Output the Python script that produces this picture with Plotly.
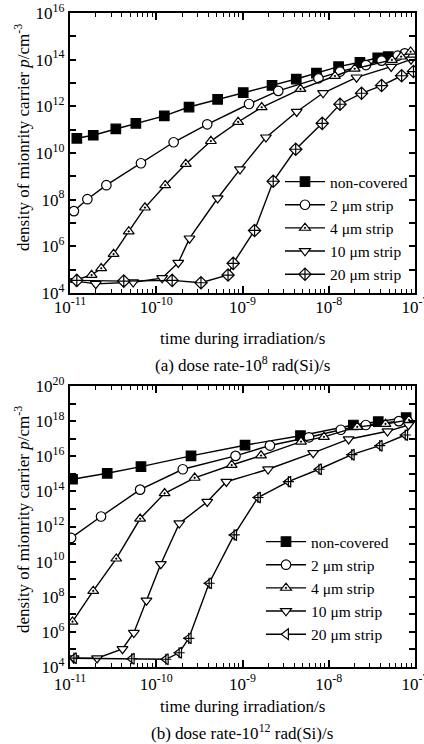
import plotly.graph_objects as go

# ---------------- data: (a) dose rate 1e8 rad(Si)/s ----------------
a_nc_t = [1.2e-11, 1.86e-11, 3.4e-11, 5.8e-11, 1.24e-10, 2.4e-10, 5.15e-10, 1.02e-9, 2.2e-9, 4.2e-9, 7.2e-9, 1.3e-8, 2.3e-8, 3.7e-8, 4.9e-8]
a_nc_p = [10.63, 10.76, 11.03, 11.27, 11.59, 11.97, 12.30, 12.59, 12.90, 13.17, 13.42, 13.70, 13.89, 14.08, 14.13]

a_2_t = [1.11e-11, 1.59e-11, 2.64e-11, 6.65e-11, 1.59e-10, 3.9e-10, 1.19e-9, 2.6e-9, 7.6e-9, 1.35e-8, 2.7e-8, 4.1e-8, 6.3e-8, 7.6e-8]
a_2_p = [7.51, 8.02, 8.62, 9.56, 10.46, 11.23, 12.10, 12.66, 13.20, 13.49, 13.77, 13.96, 14.17, 14.27]

a_4_t = [1.17e-11, 1.78e-11, 2.3e-11, 3.2e-11, 4.8e-11, 7.4e-11, 1.27e-10, 2.2e-10, 4.3e-10, 8.9e-10, 1.67e-9, 4.7e-9, 1.18e-8, 2.0e-8, 5.4e-8, 6.9e-8, 8.9e-8]
a_4_p = [4.56, 4.77, 5.06, 5.67, 6.64, 7.66, 8.62, 9.53, 10.51, 11.33, 11.96, 12.74, 13.30, 13.61, 13.99, 14.13, 14.34]

a_10_t = [1.17e-11, 1.99e-11, 5.4e-11, 1.17e-10, 1.8e-10, 2.43e-10, 5.15e-10, 9.35e-10, 1.87e-9, 4.25e-9, 8.6e-9, 2.1e-8, 5.3e-8, 9.0e-8]
a_10_p = [4.51, 4.39, 4.46, 4.64, 5.30, 6.34, 8.06, 9.30, 10.67, 11.77, 12.57, 13.24, 13.70, 14.01]

a_20_t = [1.2e-11, 4.2e-11, 1.53e-10, 3.3e-10, 6.8e-10, 7.8e-10, 1.38e-9, 2.27e-9, 4.14e-9, 8.4e-9, 1.35e-8, 2.4e-8, 4.1e-8, 7.0e-8, 9.6e-8]
a_20_p = [4.54, 4.51, 4.54, 4.44, 4.77, 5.27, 6.68, 8.79, 10.16, 11.27, 12.09, 12.56, 12.89, 13.31, 13.49]

# ---------------- data: (b) dose rate 1e12 rad(Si)/s ----------------
b_nc_t = [1.07e-11, 2.7e-11, 6.65e-11, 2.53e-10, 1.07e-9, 4.7e-9, 1.93e-8, 3.75e-8, 7.9e-8]
b_nc_p = [14.69, 15.03, 15.41, 16.02, 16.63, 17.17, 17.78, 17.97, 18.20]

b_2_t = [1.03e-11, 2.29e-11, 6.5e-11, 2.03e-10, 8.3e-10, 2.08e-9, 5.9e-9, 1.38e-8, 2.69e-8, 6.5e-8]
b_2_p = [11.35, 12.57, 14.10, 15.26, 16.02, 16.61, 17.08, 17.51, 17.78, 18.00]

b_4_t = [1.07e-11, 1.86e-11, 3.44e-11, 6.5e-11, 1.25e-10, 2.79e-10, 7.5e-10, 1.64e-9, 4.77e-9, 8.8e-9, 2.14e-8, 4.55e-8, 8.5e-8]
b_4_p = [6.58, 8.33, 10.17, 12.44, 13.89, 14.77, 15.50, 16.04, 16.83, 17.10, 17.67, 17.84, 18.07]

b_10_t = [1.1e-11, 2.06e-11, 4.06e-11, 5.5e-11, 7.7e-11, 1.13e-10, 1.85e-10, 3.9e-10, 6.5e-10, 1.98e-9, 6.6e-9, 1.7e-8, 4.8e-8, 8.4e-8]
b_10_p = [4.50, 4.50, 5.03, 5.95, 7.79, 9.87, 12.18, 13.41, 14.55, 15.26, 16.19, 16.97, 17.42, 17.78]

b_20_t = [1.11e-11, 5.2e-11, 1.29e-10, 1.84e-10, 2.38e-10, 4.1e-10, 8.0e-10, 1.51e-9, 3.4e-9, 7.7e-9, 1.85e-8, 3.9e-8, 7.7e-8]
b_20_p = [4.50, 4.47, 4.44, 4.81, 5.63, 8.77, 11.52, 13.65, 14.55, 15.26, 16.09, 16.60, 17.21]

names = ["non-covered", "2 \u03bcm strip", "4 \u03bcm strip", "10 \u03bcm strip", "20 \u03bcm strip"]

x_ticks = [1e-11, 1e-10, 1e-9, 1e-8, 1e-7]
x_ticktext = ["10<sup>-11</sup>", "10<sup>-10</sup>", "10<sup>-9</sup>", "10<sup>-8</sup>", "10<sup>-7</sup>"]

W, H = 424, 744
FONT = "Liberation Serif"
FS = 17
LFS = 15.5

fig = go.Figure()

styles = [
    dict(symbol="square", color="black"),
    dict(symbol="circle", color="white"),
    dict(symbol="triangle-up-dot", color="white"),
    dict(symbol="triangle-down", color="white"),
]

def add_series(ts, ps, i, xa, ya, leg, last_symbol):
    if i < 4:
        st = styles[i]
    else:
        st = dict(symbol=last_symbol, color="white")
    fig.add_trace(go.Scatter(
        x=ts, y=[10 ** v for v in ps], mode="lines+markers", name=names[i],
        xaxis=xa, yaxis=ya, legend=leg,
        line=dict(color="black", width=1.4),
        marker=dict(symbol=st["symbol"], color=st["color"], size=9.5,
                    line=dict(color="black", width=1.2)),
    ))

a_sets = [(a_nc_t, a_nc_p), (a_2_t, a_2_p), (a_4_t, a_4_p), (a_10_t, a_10_p), (a_20_t, a_20_p)]
b_sets = [(b_nc_t, b_nc_p), (b_2_t, b_2_p), (b_4_t, b_4_p), (b_10_t, b_10_p), (b_20_t, b_20_p)]
for i, (t, p) in enumerate(a_sets):
    add_series(t, p, i, "x", "y", "legend", "diamond-cross")
for i, (t, p) in enumerate(b_sets):
    add_series(t, p, i, "x2", "y2", "legend2", "triangle-left")
fig.add_trace(go.Scatter(x=b_20_t, y=[10 ** v for v in b_20_p], mode="markers",
                         xaxis="x2", yaxis="y2", showlegend=False, hoverinfo="skip",
                         marker=dict(symbol="cross-thin", size=8, line=dict(color="black", width=1.2))))

minor_x = [m * 10.0 ** e for e in range(-11, -7) for m in range(2, 10)]

def xaxis_cfg(anchor, standoff):
    return dict(type="log", range=[-11, -7], anchor=anchor,
                domain=[70 / W, 415 / W], automargin=False,
                tickmode="array", tickvals=x_ticks, ticktext=x_ticktext,
                ticklabeloverflow="allow", ticklabelstandoff=standoff,
                ticks="inside", ticklen=7, tickwidth=1.5, tickcolor="black",
                minor=dict(tickmode="array", tickvals=minor_x, ticks="inside", ticklen=4,
                           tickwidth=1.2, tickcolor="black", showgrid=False),
                showline=True, linewidth=2.2, linecolor="black", mirror="ticks",
                showgrid=False, zeroline=False,
                tickfont=dict(family=FONT, size=FS, color="black"))

def yaxis_cfg(anchor, top, bottom, lo, hi):
    vals = [10.0 ** e for e in range(lo, hi + 1)]
    txt = ["10<sup>%d</sup>" % e if (e - lo) % 2 == 0 else "" for e in range(lo, hi + 1)]
    return dict(type="log", range=[lo, hi], anchor=anchor,
                domain=[1 - bottom / H, 1 - top / H], automargin=False,
                tickmode="array", tickvals=vals, ticktext=txt,
                ticklabeloverflow="allow",
                ticks="inside", ticklen=6, tickwidth=1.5, tickcolor="black",
                showline=True, linewidth=2.2, linecolor="black", mirror="ticks",
                showgrid=False, zeroline=False,
                tickfont=dict(family=FONT, size=FS, color="black"))

legend_common = dict(font=dict(family=FONT, size=LFS, color="black"), bgcolor="rgba(0,0,0,0)",
                     xanchor="left", yanchor="top", tracegroupgap=0, itemwidth=40,
                     traceorder="normal")

fig.update_layout(
    width=W, height=H, autosize=False,
    margin=dict(l=0, r=0, t=0, b=0, pad=0, autoexpand=False),
    paper_bgcolor="white", plot_bgcolor="white",
    font=dict(family=FONT, size=FS, color="black"),
    xaxis=xaxis_cfg("y", -3),
    yaxis=yaxis_cfg("x", 13, 293, 4, 16),
    xaxis2=xaxis_cfg("y2", 0),
    yaxis2=yaxis_cfg("x2", 386, 667, 4, 20),
    legend=dict(x=280 / W, y=1 - 165 / H, **legend_common),
    legend2=dict(x=261 / W, y=1 - 525 / H, **legend_common),
)

ann = [
    dict(text="time during irradiation/s", x=242 / W, y=1 - 339 / H),
    dict(text="(a) dose rate-10<sup>8</sup> rad(Si)/s", x=242 / W, y=1 - 364 / H),
    dict(text="time during irradiation/s", x=242 / W, y=1 - 706 / H),
    dict(text="(b) dose rate-10<sup>12</sup> rad(Si)/s", x=242 / W, y=1 - 732 / H),
]
for a in ann:
    fig.add_annotation(xref="paper", yref="paper", xanchor="center", yanchor="middle",
                       showarrow=False, font=dict(family=FONT, size=FS, color="black"), **a)

for yc in (138, 520):
    fig.add_annotation(xref="paper", yref="paper", x=22 / W, y=1 - yc / H,
                       xanchor="center", yanchor="middle", showarrow=False, textangle=-90,
                       text="density of mionrity carrier <i>p</i>/cm<sup>-3</sup>",
                       font=dict(family=FONT, size=FS, color="black"))

fig.write_html("out.html", config={"responsive": False})
